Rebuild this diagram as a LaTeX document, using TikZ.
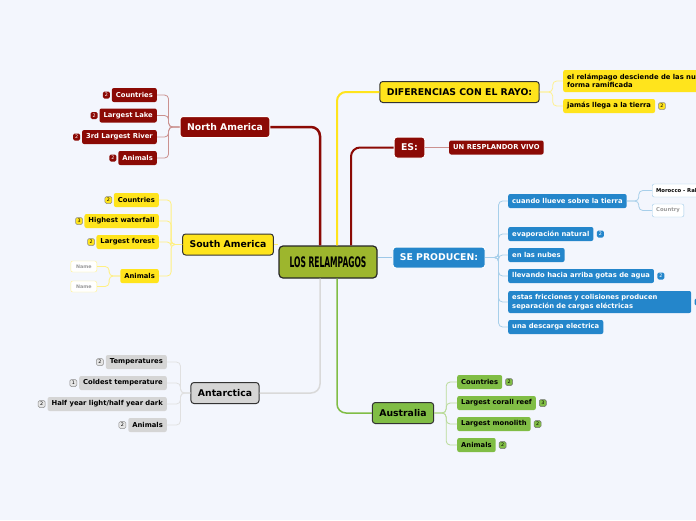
\documentclass[tikz,border=0pt]{standalone}
\usepackage{fontspec}
\setmainfont{DejaVu Sans}
\usetikzlibrary{positioning}
\definecolor{bgblue}{HTML}{F3F6FD}
\definecolor{darkred}{HTML}{8B0A05}
\definecolor{sunyellow}{HTML}{FFE41C}
\definecolor{olivegreen}{HTML}{9DB62D}
\definecolor{seablue}{HTML}{2486CB}
\definecolor{leafgreen}{HTML}{80BD45}
\definecolor{icegrey}{HTML}{D5D5D5}
\tikzset{
  root/.style={rectangle, rounded corners=4pt, draw=black!85, line width=1.2pt, fill=olivegreen, minimum width=98pt, minimum height=32pt, inner sep=0pt, font=\bfseries\fontsize{14.5}{15}\selectfont},
  branch/.style={rectangle, rounded corners=3pt, line width=1pt, minimum height=21pt, inner xsep=7pt, inner ysep=0pt, font=\bfseries\fontsize{9.3}{10}\selectfont},
  redbranch/.style={branch, fill=darkred, draw=white, text=white},
  yellowbranch/.style={branch, fill=sunyellow, draw=black!80},
  greybranch/.style={branch, fill=icegrey, draw=black!80},
  bluebranch/.style={branch, fill=seablue, draw=white, text=white},
  greenbranch/.style={branch, fill=leafgreen, draw=black!80},
  leaf/.style={rectangle, rounded corners=2pt, minimum height=14pt, inner xsep=4pt, inner ysep=1pt, align=left, font=\bfseries\fontsize{6.8}{8.3}\selectfont},
  redleaf/.style={leaf, fill=darkred, text=white},
  yellowleaf/.style={leaf, fill=sunyellow},
  greyleaf/.style={leaf, fill=icegrey},
  blueleaf/.style={leaf, fill=seablue, text=white},
  greenleaf/.style={leaf, fill=leafgreen},
  nameleaf/.style={leaf, minimum height=11pt, minimum width=26pt, fill=white, draw=sunyellow!50, text=black!40, font=\bfseries\fontsize{4.8}{5}\selectfont},
  cityleaf/.style={leaf, minimum height=13pt, fill=white, draw=seablue!45, font=\bfseries\fontsize{5.3}{6}\selectfont},
  badge/.style={rectangle, rounded corners=1.5pt, minimum size=7pt, inner sep=0.5pt, line width=0.5pt, font=\fontsize{4.8}{5}\selectfont},
  redbadge/.style={badge, fill=darkred, text=white},
  yellowbadge/.style={badge, fill=sunyellow, draw=black!45},
  greybadge/.style={badge, fill=icegrey!60, draw=black!45},
  bluebadge/.style={badge, fill=seablue, text=white},
  greenbadge/.style={badge, fill=leafgreen, draw=black!55},
  twig/.style={line width=0.8pt, rounded corners=4pt}
}

\begin{document}
\begin{tikzpicture}[x=1pt, y=-1pt]
  \fill[bgblue] (0,0) rectangle (696,520);
  \useasboundingbox (0,0) rectangle (696,520);

  \node[root] (root) at (328,262) {\scalebox{0.52}[1]{LOS RELAMPAGOS}};

  \node[redbranch] (na) at (225,127) {North America};
  \node[yellowbranch] (sa) at (228,244.5) {South America};
  \node[greybranch] (ant) at (225,393) {Antarctica};
  \node[yellowbranch] (dif) at (459.5,92) {DIFERENCIAS CON EL RAYO:};
  \node[redbranch] (es) at (409.5,147.5) {ES:};
  \node[bluebranch] (se) at (439,257.5) {SE PRODUCEN:};
  \node[greenbranch] (aus) at (403,413) {Australia};

  \draw[darkred, line width=2.5pt, rounded corners=9pt] ([xshift=-8pt]root.north) |- (na.east);
  \draw[sunyellow, line width=2pt, rounded corners=9pt] ([xshift=9pt]root.north) |- (dif.west);
  \draw[darkred, line width=2pt, rounded corners=9pt] ([xshift=23pt]root.north) |- (es.west);
  \draw[seablue!45, line width=1pt] (root.east |- se.west) -- (se.west);
  \draw[sunyellow!60, line width=1pt] (sa.east) -- (sa.east -| root.west);
  \draw[black!15, line width=1.5pt, rounded corners=9pt] ([xshift=-8pt]root.south) |- (ant.east);
  \draw[leafgreen, line width=1.5pt, rounded corners=9pt] ([xshift=9pt]root.south) |- (aus.west);

  % North America
  \node[redleaf, anchor=east] (na1) at (157,95) {Countries};
  \node[redleaf, anchor=east] (na2) at (157,115.5) {Largest Lake};
  \node[redleaf, anchor=east] (na3) at (157,137) {3rd Largest River};
  \node[redleaf, anchor=east] (na4) at (157,158) {Animals};
  \node[redbadge, left=1.5pt of na1] (na1b) {2};
  \node[redbadge, left=1.5pt of na2] (na2b) {2};
  \node[redbadge, left=1.5pt of na3] (na3b) {2};
  \node[redbadge, left=1.5pt of na4] (na4b) {2};
  \foreach \n in {na1,na2,na3,na4}
    \draw[twig, darkred!45] (na.west) -- ++(-11,0) |- (\n.east);

  % South America
  \node[yellowleaf, anchor=east] (sa1) at (159,200) {Countries};
  \node[yellowleaf, anchor=east] (sa2) at (159,221) {Highest waterfall};
  \node[yellowleaf, anchor=east] (sa3) at (159,242) {Largest forest};
  \node[yellowleaf, anchor=east] (sa4) at (159,276) {Animals};
  \node[yellowbadge, left=1.5pt of sa1] (sa1b) {2};
  \node[yellowbadge, left=1.5pt of sa2] (sa2b) {3};
  \node[yellowbadge, left=1.5pt of sa3] (sa3b) {2};
  \node[nameleaf, anchor=east] (sa4a) at (97,266.5) {Name};
  \node[nameleaf, anchor=east] (sa4b) at (97,286.5) {Name};
  \foreach \n in {sa1,sa2,sa3,sa4}
    \draw[twig, sunyellow!55] (sa.west) -- ++(-11,0) |- (\n.east);
  \foreach \n in {sa4a,sa4b}
    \draw[twig, sunyellow!55] (sa4.west) -- ++(-11,0) |- (\n.east);

  % Antarctica
  \node[greyleaf, anchor=east] (ant1) at (167,362) {Temperatures};
  \node[greyleaf, anchor=east] (ant2) at (167,383) {Coldest temperature};
  \node[greyleaf, anchor=east] (ant3) at (167,404) {Half year light/half year dark};
  \node[greyleaf, anchor=east] (ant4) at (167,425) {Animals};
  \node[greybadge, left=2pt of ant1] (ant1b) {2};
  \node[greybadge, left=2pt of ant2] (ant2b) {1};
  \node[greybadge, left=2pt of ant3] (ant3b) {2};
  \node[greybadge, left=2pt of ant4] (ant4b) {2};
  \foreach \n in {ant1,ant2,ant3,ant4}
    \draw[twig, black!12] (ant.west) -- ++(-10,0) |- (\n.east);

  % DIFERENCIAS CON EL RAYO
  \node[yellowleaf, anchor=west, minimum height=22pt] (dif1) at (563,81) {el relámpago desciende de las nubes\\forma ramificada};
  \node[yellowleaf, anchor=west] (dif2) at (563,106) {jamás llega a la tierra};
  \node[yellowbadge, right=3pt of dif2] (dif2b) {2};
  \foreach \n in {dif1,dif2}
    \draw[twig, sunyellow!50] (dif.east) -- ++(13,0) |- (\n.west);

  % ES
  \node[redleaf, anchor=west] (es1) at (449,147.5) {UN RESPLANDOR VIVO};
  \draw[twig, darkred!45] (es.east) -- (es1.west);

  % SE PRODUCEN
  \node[blueleaf, anchor=west] (se1) at (508,201) {cuando llueve sobre la tierra};
  \node[blueleaf, anchor=west] (se2) at (508,234) {evaporación natural};
  \node[blueleaf, anchor=west] (se3) at (508,255) {en las nubes};
  \node[blueleaf, anchor=west] (se4) at (508,276) {llevando hacia arriba gotas de agua};
  \node[blueleaf, anchor=west, minimum height=22pt, minimum width=183pt, text width=175pt] (se5) at (508,302) {estas fricciones y colisiones producen\\separación de cargas eléctricas};
  \node[blueleaf, anchor=west] (se6) at (508,327) {una descarga electrica};
  \node[bluebadge, right=3pt of se2] (se2b) {2};
  \node[bluebadge, right=3pt of se4] (se4b) {2};
  \node[bluebadge, right=3pt of se5] (se5b) {2};
  \node[cityleaf, anchor=west] (se1a) at (652,190.5) {Morocco - Rabat};
  \node[cityleaf, anchor=west, text=black!40] (se1b) at (652,210.5) {Country};
  \foreach \n in {se1,se2,se3,se4,se5,se6}
    \draw[twig, seablue!40] (se.east) -- ++(13,0) |- (\n.west);
  \foreach \n in {se1a,se1b}
    \draw[twig, seablue!40] (se1.east) -- ++(12,0) |- (\n.west);

  % Australia
  \node[greenleaf, anchor=west] (aus1) at (457,382) {Countries};
  \node[greenleaf, anchor=west] (aus2) at (457,403) {Largest corall reef};
  \node[greenleaf, anchor=west] (aus3) at (457,424) {Largest monolith};
  \node[greenleaf, anchor=west] (aus4) at (457,445) {Animals};
  \node[greenbadge, right=3pt of aus1] (aus1b) {2};
  \node[greenbadge, right=3pt of aus2] (aus2b) {3};
  \node[greenbadge, right=3pt of aus3] (aus3b) {2};
  \node[greenbadge, right=3pt of aus4] (aus4b) {2};
  \foreach \n in {aus1,aus2,aus3,aus4}
    \draw[twig, leafgreen!55] (aus.east) -- ++(12,0) |- (\n.west);
\end{tikzpicture}
\end{document}
